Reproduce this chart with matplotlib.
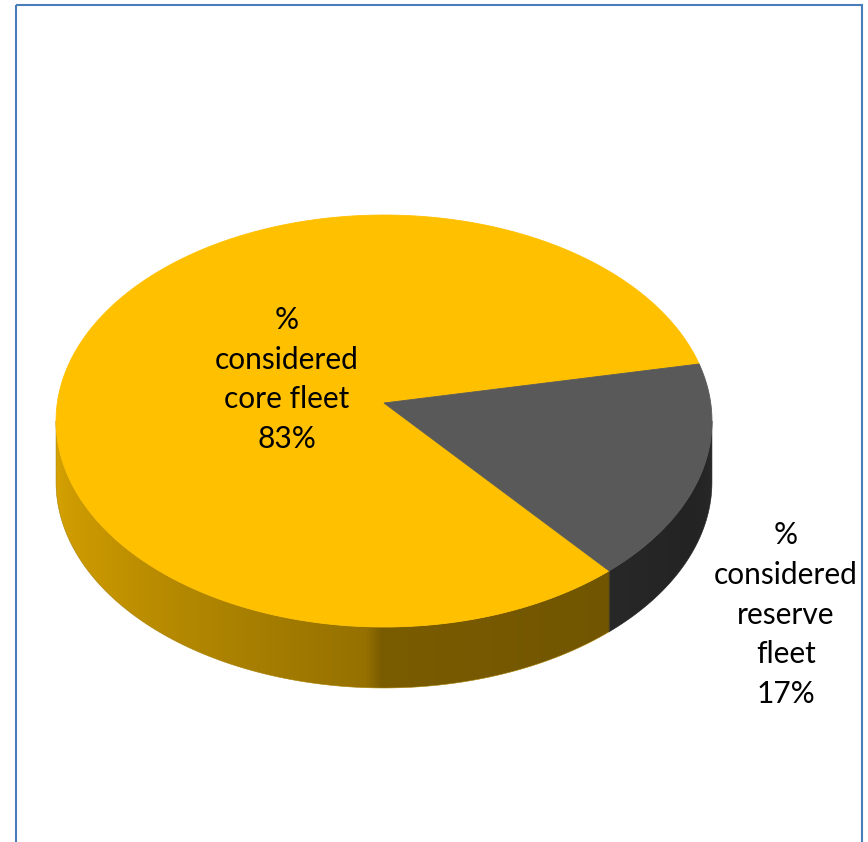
import numpy as np
import matplotlib
matplotlib.use("Agg")
import matplotlib.pyplot as plt
from matplotlib.patches import Polygon, Rectangle
from matplotlib.colors import to_rgb

# ---- data ----
categories = ["% considered core fleet", "% considered reserve fleet"]
label_lines = [["%", "considered", "core fleet"], ["%", "considered", "reserve", "fleet"]]
values = [83, 17]
top_colors = ["#FFC000", "#595959"]

# ---- 3D pie geometry (pixel space) ----
CX, CY = 384.0, 403.0      # projected centre of the disc
A, B = 326.7, 204.4        # horizontal / vertical radii
K = 0.0874                 # perspective foreshortening
DEPTH = 61.0               # thickness of the disc
START = -50.0              # angle (deg) where the first slice starts, clockwise

W, H = 868, 842
fig = plt.figure(figsize=(W / 100, H / 100), dpi=100)
ax = fig.add_axes([0, 0, 1, 1])
ax.set_xlim(0, W)
ax.set_ylim(H, 0)
ax.axis("off")


def proj(t_deg, drop=0.0):
    t = np.radians(t_deg)
    u, v = np.cos(t), np.sin(t)
    s = 1 + K * v
    return CX + A * u / s, CY - B * v / s + drop


# wall lighting stops: (degrees past the left silhouette, colour)
side_stops = [
    [(0, "#D8A400"), (30, "#C69500"), (60, "#AA8100"), (82, "#967100"),
     (84.5, "#7A5C00"), (120, "#725600"), (170, "#6A5000")],
    [(0, "#2C2C2C"), (125, "#282828"), (150, "#232323"), (170, "#2A2A2A")],
]


def shade(stops, t_deg):
    t = (np.asarray(t_deg) - 185) % 360
    angs = [a for a, _ in stops]
    cols = np.array([to_rgb(c) for _, c in stops])
    return np.stack([np.interp(t, angs, cols[:, i]) for i in range(3)], axis=-1)


total = float(sum(values))
spans = [v / total * 360.0 for v in values]
bounds = []
a = START
for sp in spans:
    bounds.append((a, a - sp))
    a -= sp

# visible front wall lies between the two silhouette angles
sil = np.degrees(np.arcsin(K))
F_LO, F_HI = 180 + sil, 360 - sil

# x -> angle lookup along the front rim (x grows with angle there)
t_front = np.linspace(F_LO, F_HI, 2000)
x_front, _ = proj(t_front)

for i, (a0, a1) in enumerate(bounds):
    for shift in (-720, -360, 0, 360):
        lo = max(a1, F_LO + shift)
        hi = min(a0, F_HI + shift)
        if lo >= hi:
            continue
        ts = np.linspace(lo, hi, 300)
        xt, yt = proj(ts)
        xb, yb = proj(ts[::-1], DEPTH)
        pts = list(zip(xt, yt)) + list(zip(xb, yb))
        wall = Polygon(pts, closed=True, facecolor="none", edgecolor="none", zorder=1)
        ax.add_patch(wall)
        # horizontal gradient filled through the wall outline
        x0, x1 = xt.min() - 2, xt.max() + 2
        y0, y1 = min(yt.min(), yb.min()) - 2, max(yt.max(), yb.max()) + 2
        xs = np.linspace(x0, x1, int(x1 - x0) + 1)
        tt = np.interp(xs, x_front, t_front)
        img = shade(side_stops[i], tt)[None, :, :]
        im = ax.imshow(img, extent=(x0, x1, y1, y0), aspect="auto",
                       interpolation="bilinear", zorder=1)
        im.set_clip_path(wall)
        ax.add_patch(Polygon(pts, closed=True, facecolor="none",
                             edgecolor=tuple(shade(side_stops[i], 0.5 * (lo + hi))),
                             lw=0.4, zorder=1.1))

# top faces
for i, (a0, a1) in enumerate(bounds):
    ts = np.linspace(a0, a1, 400)
    xs, ys = proj(ts)
    pts = [(CX, CY)] + list(zip(xs, ys))
    ax.add_patch(Polygon(pts, closed=True, facecolor=top_colors[i],
                         edgecolor=top_colors[i], lw=0.6, zorder=2))

ax.set_xlim(0, W)
ax.set_ylim(H, 0)

# data labels
font = dict(family=["Lato", "DejaVu Sans"], fontsize=21.5, color="black")
lab_pos = [(287, 379.5), (786, 614.5)]
for i, (x, y) in enumerate(lab_pos):
    txt = "\n".join(label_lines[i] + [f"{values[i]}%"])
    ax.text(x, y, txt, ha="center", va="center", multialignment="center",
            linespacing=1.51, zorder=5, **font)

# chart area border
ax.add_patch(Rectangle((16, 5), 846, 900, fill=False, edgecolor="#4A7EBB",
                       lw=1.5, zorder=6, clip_on=True))

fig.savefig("out.png", dpi=100, facecolor="white")
